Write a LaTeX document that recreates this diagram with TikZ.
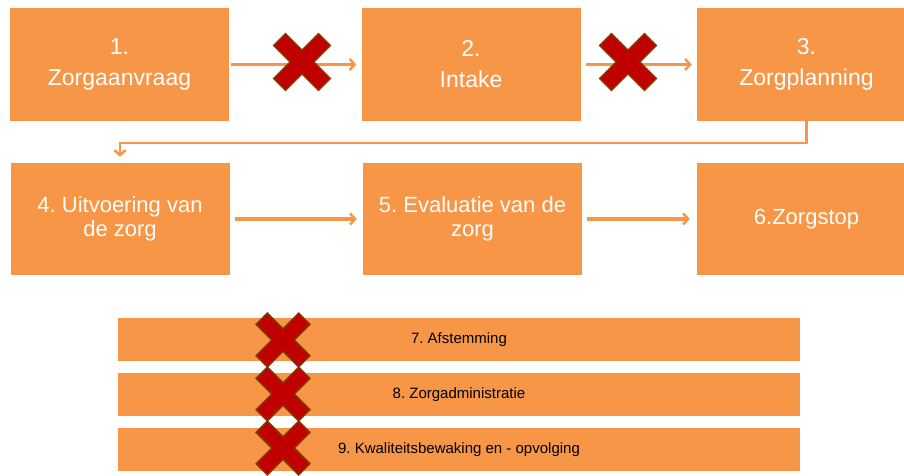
\documentclass[tikz,border=0pt]{standalone}
\usepackage{fontspec}
\setmainfont{Liberation Sans}
\usetikzlibrary{arrows.meta,positioning}
\definecolor{stap}{HTML}{F79646}
\definecolor{kruis}{HTML}{C00000}
\definecolor{kruisrand}{HTML}{7F3F00}
\tikzset{redx/.pic={\filldraw[fill=kruis, draw=kruisrand, line width=1.3pt, line join=miter]
  (-0.58,1) -- (0,0.42) -- (0.58,1) -- (1,0.58) -- (0.42,0) -- (1,-0.58) -- (0.58,-1) -- (0,-0.42)
  -- (-0.58,-1) -- (-1,-0.58) -- (-0.42,0) -- (-1,0.58) -- cycle;}}
\frenchspacing

\begin{document}
\begin{tikzpicture}[x=1pt, y=-1pt,
      box/.style={fill=stap, text=white, align=center, minimum width=219pt, minimum height=113pt, inner sep=0pt},
      top/.style={box, font=\fontsize{23}{31}\selectfont},
      mid/.style={box, minimum height=112pt, font=\fontsize{22}{24}\selectfont},
      bar/.style={fill=stap, text=black, minimum width=682pt, minimum height=43pt, inner sep=0pt, font=\fontsize{15}{18}\selectfont},
      arr/.style={-{Straight Barb[length=5pt, width=11pt, line width=2.5pt]}, line width=2.5pt, stap},
      arrb/.style={arr, line width=4pt}]
    \clip (0,0) rectangle (904,475);
    \node[top] (z1) at (119.5,64.5) {1.\\Zorgaanvraag};
    \node[top] (z2) at (471,64.5) {2.\\Intake};
    \node[top] (z3) at (806.5,64.5) {3.\\Zorgplanning};
    \node[mid] (z4) at (120,219) {4. Uitvoering van\\de zorg};
    \node[mid] (z5) at (472.5,219) {5. Evaluatie van de\\zorg};
    \node[mid] (z6) at (806.5,219) {6.Zorgstop};
    \node[bar] (b7) at (459,339.5) {7. Afstemming};
    \node[bar] (b8) at (459,394.5) {8. Zorgadministratie};
    \node[bar] (b9) at (459,449.5) {9. Kwaliteitsbewaking en - opvolging};
    \draw[arr, shorten <=2pt, shorten >=5pt] (z1) -- (z2);
    \draw[arr, shorten <=5pt, shorten >=5pt] (z2) -- (z3);
    \draw[arr, shorten >=6pt] (z3.south) -- ++(0,22) -| (z4.north);
    \draw[arrb, shorten <=5pt, shorten >=6pt] (z4) -- (z5);
    \draw[arrb, shorten <=5pt, shorten >=7pt] (z5) -- (z6);
    \pic[scale=28.5] (x1) at (302,62) {redx};
    \pic[scale=28.5] (x2) at (628,62) {redx};
    \pic[scale=27] (x7) at (283,340) {redx};
    \pic[scale=27] (x8) at (283,394) {redx};
    \pic[scale=27] (x9) at (283,448) {redx};
  \end{tikzpicture}
\end{document}
